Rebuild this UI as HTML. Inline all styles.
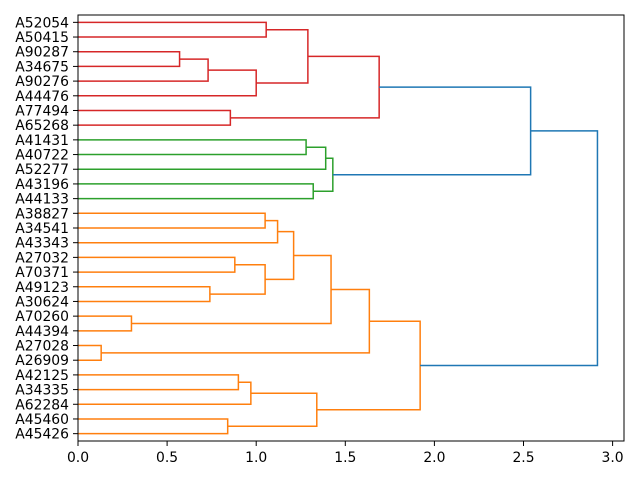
<!DOCTYPE html>
<html><head><style>
body{margin:0;background:#fff}
svg text{font-family:"DejaVu Sans","Liberation Sans",sans-serif;font-size:13.9px;fill:#000}
</style></head><body>
<svg id="s" width="640" height="480" xmlns="http://www.w3.org/2000/svg"></svg>
<script>
(function(){
var names=["A52054","A50415","A90287","A34675","A90276","A44476","A77494","A65268","A41431","A40722","A52277","A43196","A44133","A38827","A34541","A43343","A27032","A70371","A49123","A30624","A70260","A44394","A27028","A26909","A42125","A34335","A62284","A45460","A45426"];
var X0=78,SC=178.2,T=15,B=441;
function Y(i){return T+(5+10*i)*(B-T)/290;}
function px(h){return X0+h*SC;}
var R="#d62728",G="#2ca02c",O="#ff7f0e",Bl="#1f77b4";
var nodes={};
names.forEach(function(n,i){nodes[i]={y:Y(i),h:0};});
var out="";
var k=100;
function m(a,b,h,c){var A=nodes[a],Bn=nodes[b];
out+='<path d="M'+px(A.h)+','+A.y+'H'+px(h)+'V'+Bn.y+'H'+px(Bn.h)+'" fill="none" stroke="'+c+'" stroke-width="1.5"/>';
nodes[k]={y:(A.y+Bn.y)/2,h:h};return k++;}
var a=m(0,1,1.056,R),b=m(2,3,0.57,R),c=m(b,4,0.73,R),d=m(c,5,1.0,R),e=m(a,d,1.29,R),f=m(6,7,0.855,R),red=m(e,f,1.69,R);
var g1=m(8,9,1.28,G),g2=m(g1,10,1.39,G),g3=m(11,12,1.32,G),green=m(g2,g3,1.43,G);
var rootA=m(red,green,2.54,Bl);
var o1=m(13,14,1.05,O),o2=m(o1,15,1.12,O),o3=m(16,17,0.88,O),o4=m(18,19,0.74,O),o5=m(o3,o4,1.05,O),o6=m(o2,o5,1.21,O),o7=m(20,21,0.3,O),o8=m(o6,o7,1.42,O),o9=m(22,23,0.13,O),o10=m(o8,o9,1.635,O);
var p1=m(24,25,0.9,O),p2=m(p1,26,0.97,O),p3=m(27,28,0.84,O),p4=m(p2,p3,1.34,O),orange=m(o10,p4,1.92,O);
m(rootA,orange,2.915,Bl);
out+='<rect x="78" y="15" width="546" height="426" fill="none" stroke="#000" stroke-width="1"/>';
names.forEach(function(n,i){var y=Y(i);out+='<line x1="78" x2="73" y1="'+y+'" y2="'+y+'" stroke="#000"/><text x="69" y="'+(y+5)+'" text-anchor="end">'+n+'</text>';});
["0.0","0.5","1.0","1.5","2.0","2.5","3.0"].forEach(function(t,i){var x=px(i*0.5);out+='<line x1="'+x+'" x2="'+x+'" y1="441" y2="446" stroke="#000"/><text x="'+x+'" y="462" text-anchor="middle">'+t+'</text>';});
document.getElementById("s").innerHTML=out;
})();
</script>
</body></html>
